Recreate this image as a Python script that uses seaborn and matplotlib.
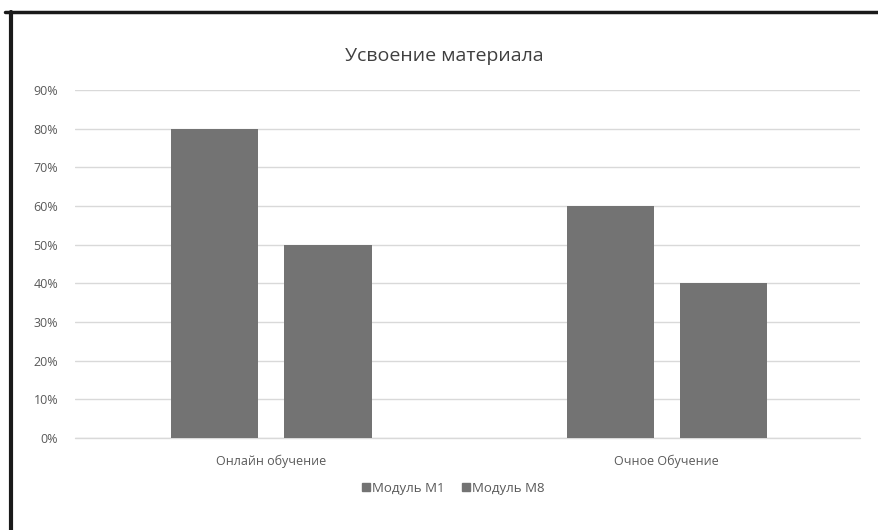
import pandas as pd
import matplotlib.pyplot as plt
import seaborn as sns
from matplotlib.ticker import PercentFormatter
from matplotlib.lines import Line2D

# Dados do gráfico
categorias = ['Онлайн обучение', 'Очное Обучение']
modulo_m1 = [0.80, 0.60]
modulo_m8 = [0.50, 0.40]
series = ['Модуль М1', 'Модуль М8']

df = pd.DataFrame({
    'categoria': categorias * 2,
    'valor': modulo_m1 + modulo_m8,
    'serie': [series[0]] * 2 + [series[1]] * 2,
})

sns.set_theme(style="white")
plt.rcParams['font.family'] = ['Open Sans', 'DejaVu Sans']

cor_barra = '#737373'
cor_texto = '#595959'
cor_grade = '#d9d9d9'

fig = plt.figure(figsize=(8.79, 5.30), dpi=100)
ax = fig.add_axes([0.0853, 0.1736, 0.8927, 0.6566])

sns.barplot(data=df, x='categoria', y='valor', hue='serie', hue_order=series,
            palette=[cor_barra, cor_barra], width=0.572, gap=0.23,
            edgecolor=cor_barra, linewidth=0, ax=ax, legend=False, zorder=3)

ax.set_ylim(0, 0.9)
ax.set_yticks([i / 10 for i in range(10)])
ax.yaxis.set_major_formatter(PercentFormatter(1.0, decimals=0))
ax.grid(axis='y', color=cor_grade, linewidth=1, zorder=0)
ax.axhline(0, color=cor_grade, linewidth=1, zorder=1, clip_on=False)
ax.set_axisbelow(True)
for s in ax.spines.values():
    s.set_visible(False)
ax.tick_params(axis='both', length=0, colors=cor_texto, labelsize=9)
ax.tick_params(axis='y', pad=12)
ax.tick_params(axis='x', pad=12)
ax.set_xlabel('')
ax.set_ylabel('')
ax.set_xlim(-0.497, 1.488)

fig.text(0.506, 0.895, 'Усвоение материала', ha='center', va='center',
         fontsize=14, color='#404040')

handles = [Line2D([], [], marker='s', linestyle='', color=cor_barra, markersize=6)
           for _ in series]
fig.legend(handles, series, loc='center', bbox_to_anchor=(0.515, 0.079), ncol=2,
           frameon=False, fontsize=9.5, labelcolor=cor_texto, handletextpad=0.1,
           columnspacing=1.2, handlelength=0.8)

# Moldura da captura de tela
fig.add_artist(Line2D([0.012, 0.012], [0.0, 0.978], color='#1a1a1a', linewidth=3,
                      transform=fig.transFigure))
fig.add_artist(Line2D([0.006, 1.0], [0.978, 0.978], color='#1a1a1a', linewidth=2.5,
                      transform=fig.transFigure))

fig.savefig('out.png', dpi=100)
